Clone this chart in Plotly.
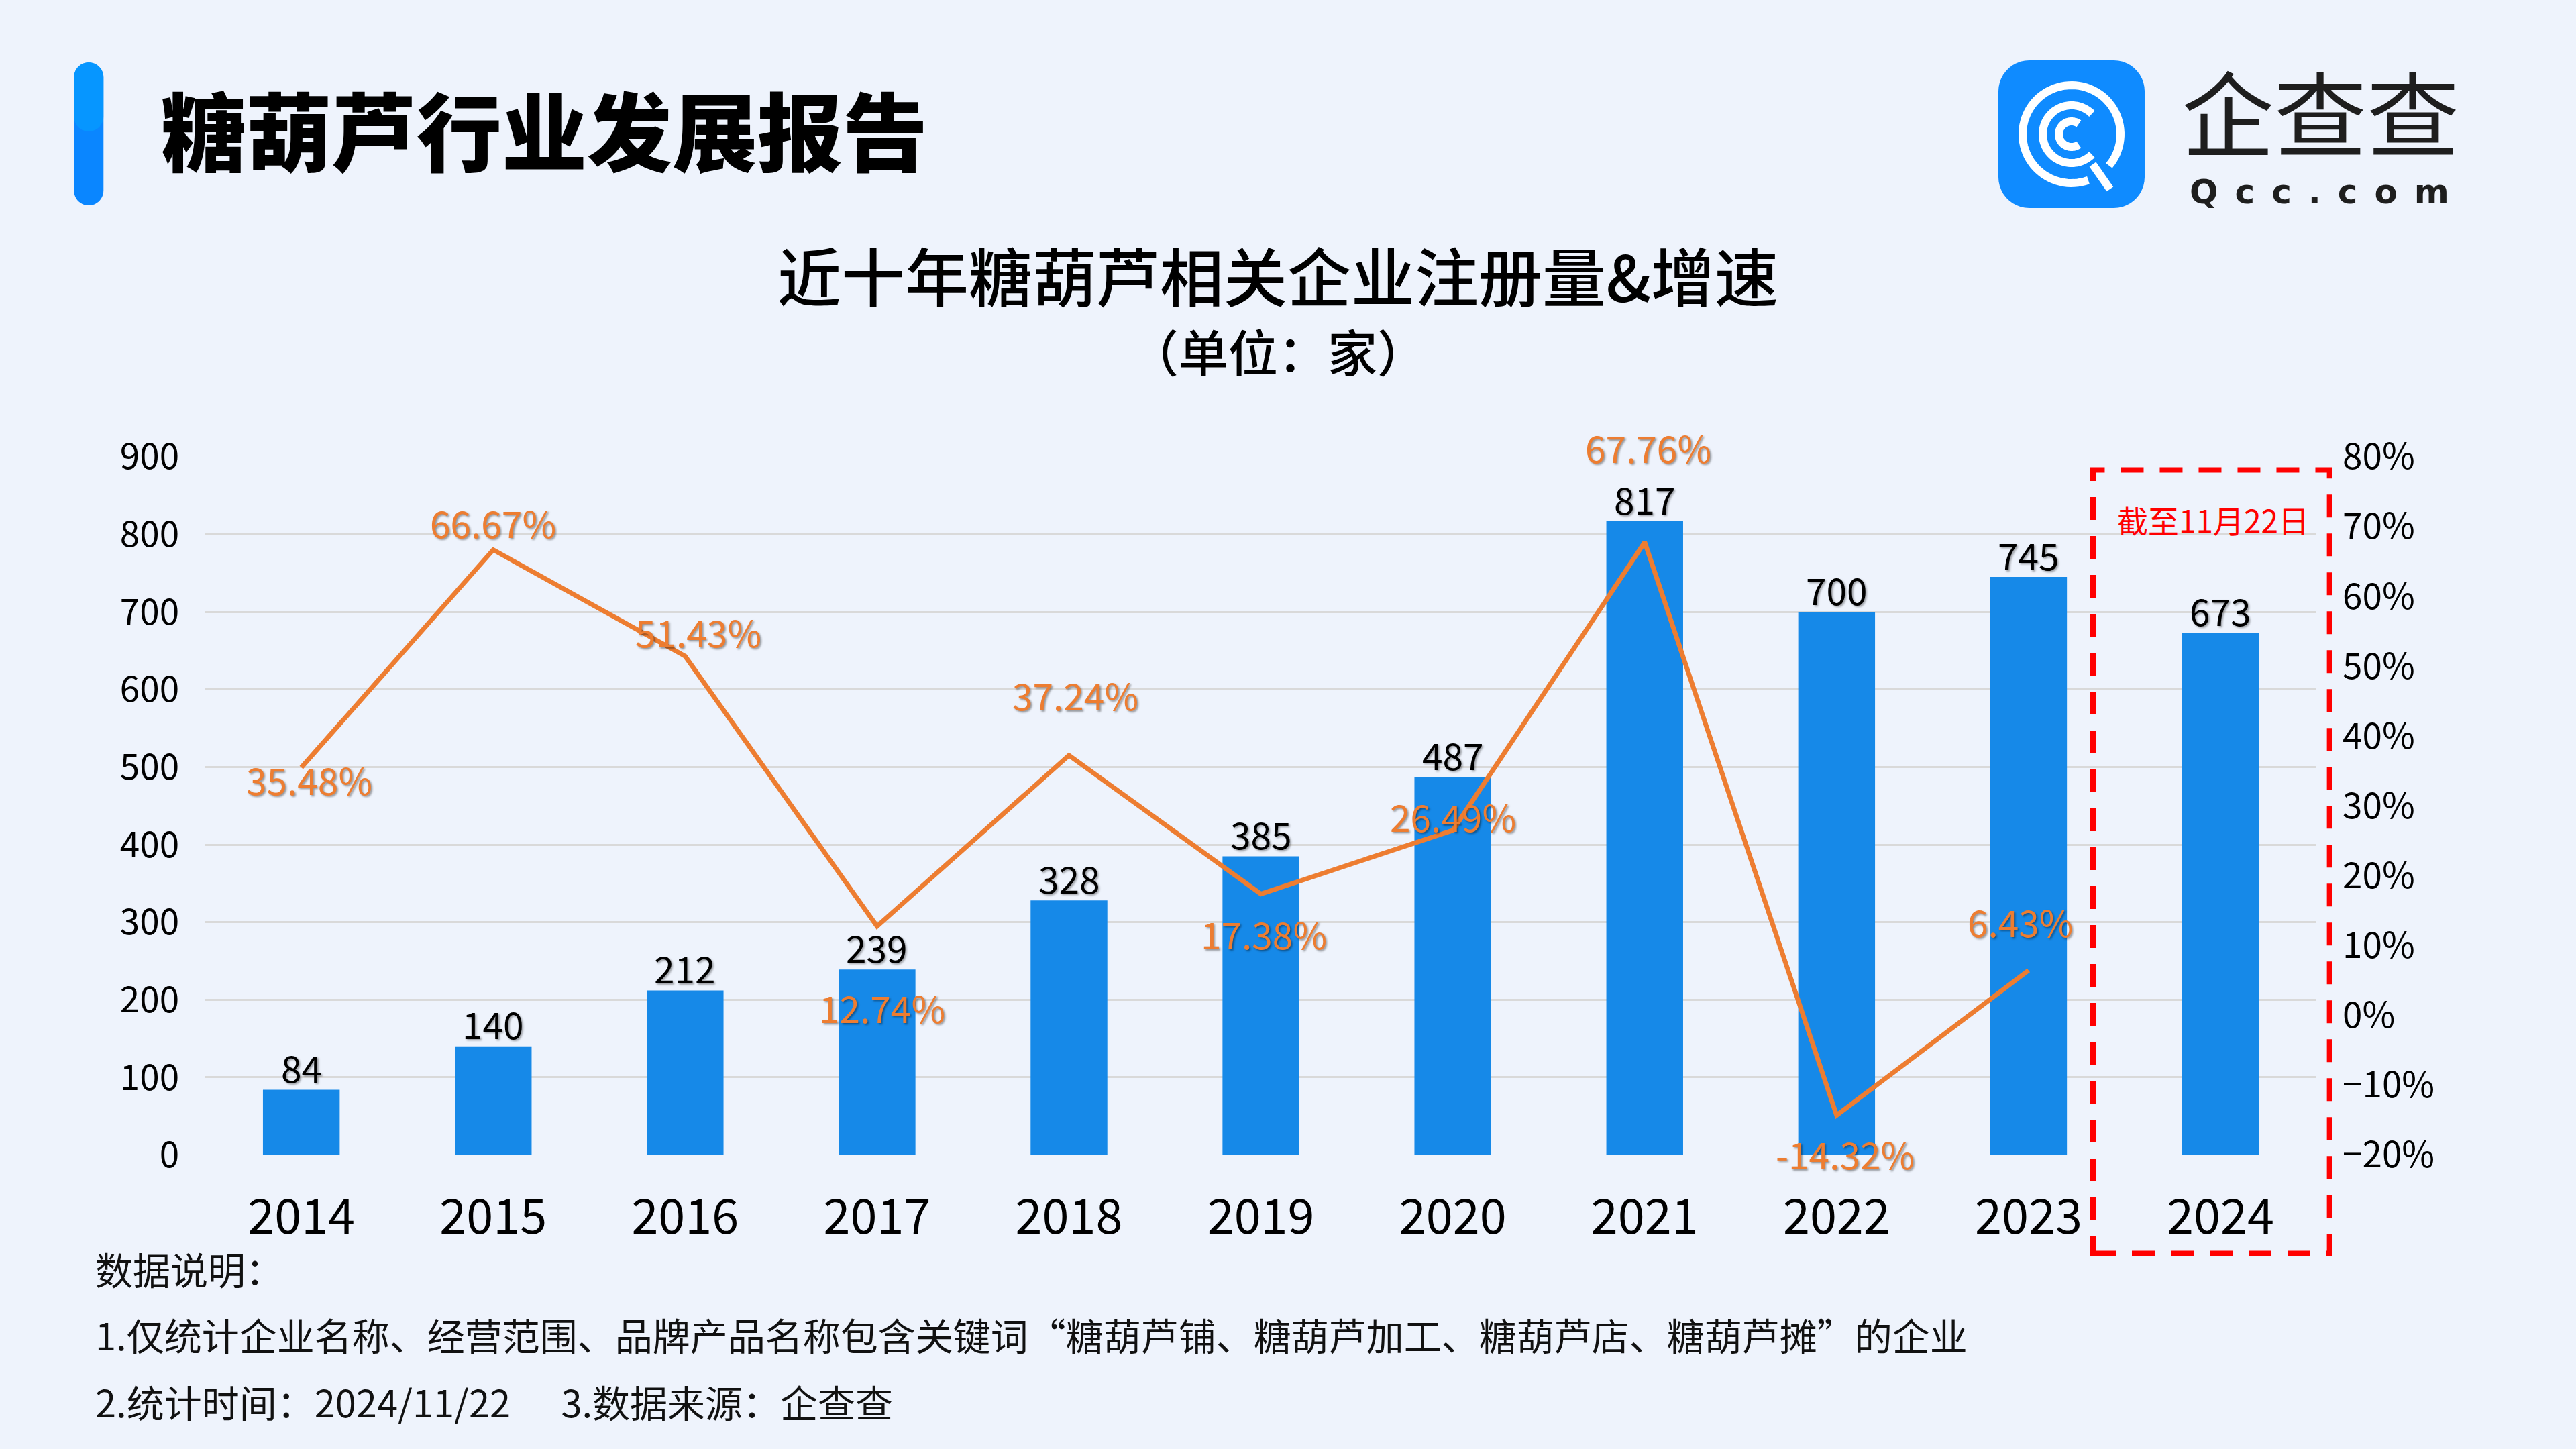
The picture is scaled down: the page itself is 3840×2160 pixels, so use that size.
import numpy as np
import plotly.graph_objects as go

# ---------------- data ----------------
years = ["2014", "2015", "2016", "2017", "2018", "2019", "2020", "2021", "2022", "2023", "2024"]
registrations = [84, 140, 212, 239, 328, 385, 487, 817, 700, 745, 673]
growth_years = ["2014", "2015", "2016", "2017", "2018", "2019", "2020", "2021", "2022", "2023"]
growth_pct = [35.48, 66.67, 51.43, 12.74, 37.24, 17.38, 26.49, 67.76, -14.32, 6.43]

header_title = "糖葫芦行业发展报告"
chart_title = "近十年糖葫芦相关企业注册量&增速"
chart_subtitle = "（单位：家）"
box_note = "截至11月22日"
logo_cn = "企查查"
logo_en = "Qcc.com"
notes = [
    "数据说明：",
    "1.仅统计企业名称、经营范围、品牌产品名称包含关键词“糖葫芦铺、糖葫芦加工、糖葫芦店、糖葫芦摊”的企业",
    "2.统计时间：2024/11/22\u00a0\u00a0\u00a0\u00a0\u00a0\u00a03.数据来源：企查查",
]

# ---------------- style ----------------
W, H = 3840, 2160
S = W / 1568.0  # reference-view pixel -> page pixel
CJK = "Noto Sans CJK SC"
BAR_C = "#1689E8"
LINE_C = "#ED7D31"
BG = "#EEF3FC"


def px(x):
    return x / 1568.0


def py(y):
    return 1 - y / 882.0


def P(x, y):  # page pixel -> paper
    return x / W, 1 - y / H


# per-label offsets (reference-view px) for growth labels
label_off = [(5, 7), (0, -17), (8, -15), (3, 49), (4, -37), (2, 24), (0, -9), (2, -58), (5, 23), (-5, -30)]

fig = go.Figure()

fig.add_trace(go.Bar(
    x=years, y=registrations, width=0.40,
    marker=dict(color=BAR_C, line=dict(width=0)),
    hoverinfo="skip", yaxis="y",
))

fig.add_trace(go.Scatter(
    x=growth_years, y=growth_pct, mode="lines",
    line=dict(color=LINE_C, width=7),
    hoverinfo="skip", yaxis="y2", cliponaxis=False,
))

annotations = []
# bar value labels
for i, v in enumerate(registrations):
    annotations.append(dict(
        x=i, y=v, xref="x", yref="y", text=str(v), showarrow=False,
        yanchor="middle", yshift=14 * S,
        font=dict(family=CJK, size=55, color="#000000",
                  shadow="2px 2px 3px rgba(0,0,0,0.35)"),
    ))
# growth labels
for yr, v, (dx, dy) in zip(growth_years, growth_pct, label_off):
    annotations.append(dict(
        x=years.index(yr), y=v, xref="x", yref="y2", text=f"{v:.2f}%", showarrow=False,
        xshift=dx * S, yshift=-dy * S,
        font=dict(family=CJK, size=55, color=LINE_C,
                  shadow="2px 2px 3px rgba(0,0,0,0.4)"),
    ))

# header
annotations.append(dict(x=px(97), y=py(78), xref="paper", yref="paper", xanchor="left", yanchor="middle",
                        text=header_title, showarrow=False,
                        font=dict(family=CJK, size=127, color="#000000", weight=900)))
# chart titles
annotations.append(dict(x=px(778), y=py(167), xref="paper", yref="paper", xanchor="center", yanchor="middle",
                        text=chart_title, showarrow=False,
                        font=dict(family=CJK, size=95, color="#000000", weight=500)))
annotations.append(dict(x=px(778), y=py(213), xref="paper", yref="paper", xanchor="center", yanchor="middle",
                        text=chart_subtitle, showarrow=False,
                        font=dict(family=CJK, size=74, color="#000000", weight=500)))
# box note
annotations.append(dict(x=px(1347), y=py(316), xref="paper", yref="paper", xanchor="center", yanchor="middle",
                        text=box_note, showarrow=False,
                        font=dict(family=CJK, size=46, color="#FF0000")))
# notes
for t, yy in zip(notes, [772, 812, 853]):
    annotations.append(dict(x=px(57), y=py(yy), xref="paper", yref="paper", xanchor="left", yanchor="middle",
                            text=t, showarrow=False,
                            font=dict(family=CJK, size=56, color="#111111")))

# logo texts
lx, ly = P(3459, 163)
annotations.append(dict(x=lx, y=ly, xref="paper", yref="paper", xanchor="center", yanchor="middle",
                        text=logo_cn, showarrow=False,
                        font=dict(family=CJK, size=138, color="#1E1E1E", weight=400)))
qx, qy = P(3457, 286)
annotations.append(dict(x=qx, y=qy, xref="paper", yref="paper", xanchor="center", yanchor="middle",
                        text="\u2002".join(logo_en), showarrow=False,
                        font=dict(family="DejaVu Sans", size=50, color="#1E1E1E", weight=700)))

shapes = []


def path_from(points, close=False):
    s = "M " + " L ".join(f"{P(x, y)[0]:.5f},{P(x, y)[1]:.5f}" for x, y in points)
    return s + (" Z" if close else "")


def rounded_rect(x0, y0, x1, y1, r, n=12):
    pts = []
    corners = [(x1 - r, y0 + r, 90, 0), (x1 - r, y1 - r, 0, -90), (x0 + r, y1 - r, -90, -180), (x0 + r, y0 + r, 180, 90)]
    for cx, cy, a0, a1 in corners:
        for a in np.linspace(np.radians(a0), np.radians(a1), n):
            pts.append((cx + r * np.cos(a), cy - r * np.sin(a)))
    return pts


def arc(cx, cy, r, a0, a1, n=80):
    return [(cx + r * np.cos(a), cy - r * np.sin(a)) for a in np.linspace(np.radians(a0), np.radians(a1), n)]


# header pill (two-tone to hint gradient)
pill = rounded_rect(45 * S, 38 * S, 63 * S, 125 * S, 9 * S)
shapes.append(dict(type="path", xref="paper", yref="paper", path=path_from(pill, True),
                   fillcolor="#0A86FF", line=dict(width=0), layer="above"))
pill_top = rounded_rect(45 * S, 38 * S, 63 * S, 80 * S, 9 * S)
shapes.append(dict(type="path", xref="paper", yref="paper", path=path_from(pill_top, True),
                   fillcolor="#04A2FF", line=dict(width=0), layer="above", opacity=0.6))

# logo square
sq = rounded_rect(2979, 90, 3197, 310, 46)
shapes.append(dict(type="path", xref="paper", yref="paper", path=path_from(sq, True),
                   fillcolor="#0F8BFF", line=dict(width=0), layer="above"))
cx, cy = 3088, 200
for r, a0, a1 in [(73, -40, 290), (43, 45, 315), (19, 55, 305)]:
    shapes.append(dict(type="path", xref="paper", yref="paper", path=path_from(arc(cx, cy, r, a0, a1)),
                       line=dict(color="#FFFFFF", width=12), layer="above"))
ang = np.radians(-55)
tail = [(cx + 55 * np.cos(ang), cy - 55 * np.sin(ang)), (cx + 100 * np.cos(ang), cy - 100 * np.sin(ang))]
shapes.append(dict(type="path", xref="paper", yref="paper", path=path_from(tail),
                   line=dict(color="#FFFFFF", width=12), layer="above"))

# red dashed box
shapes.append(dict(type="rect", xref="paper", yref="paper",
                   x0=px(1274), x1=px(1418), y0=py(763), y1=py(286),
                   line=dict(color="#FF0000", width=8, dash="34px,24px"), fillcolor="rgba(0,0,0,0)", layer="above"))

fig.update_layout(
    width=W, height=H,
    margin=dict(l=0, r=0, t=0, b=0, pad=0, autoexpand=False),
    paper_bgcolor=BG, plot_bgcolor="rgba(0,0,0,0)",
    showlegend=False, bargap=0.6,
    xaxis=dict(domain=[px(125), px(1410)], type="category", range=[-0.5, len(years) - 0.5],
               autorange=False, automargin=False,
               showgrid=False, showline=False, zeroline=False,
               ticks="", ticklabelstandoff=44,
               tickfont=dict(family=CJK, size=72, color="#000000")),
    yaxis=dict(domain=[py(703), py(278)], range=[0, 900], autorange=False, automargin=False,
               dtick=100, showgrid=True,
               gridcolor="#D9D9D9", gridwidth=3, zeroline=False, showline=False, ticks="",
               ticklabelstandoff=38, tickfont=dict(family=CJK, size=53, color="#000000")),
    yaxis2=dict(domain=[py(703), py(278)], overlaying="y", side="right", range=[-20, 80],
                autorange=False, automargin=False, dtick=10,
                ticksuffix="%", showgrid=False, zeroline=False, showline=False, ticks="",
                ticklabelstandoff=38, tickfont=dict(family=CJK, size=53, color="#000000")),
    annotations=annotations,
    shapes=shapes,
    hovermode=False,
)

fig.write_html("out.html", config={"displayModeBar": False, "responsive": False})

# remove the default page margin so the figure fills the window
with open("out.html", "r", encoding="utf-8") as f:
    html = f.read()
html = html.replace("<head>", "<head><style>html,body{margin:0;padding:0;overflow:hidden;background:%s}</style>" % BG, 1)
with open("out.html", "w", encoding="utf-8") as f:
    f.write(html)
